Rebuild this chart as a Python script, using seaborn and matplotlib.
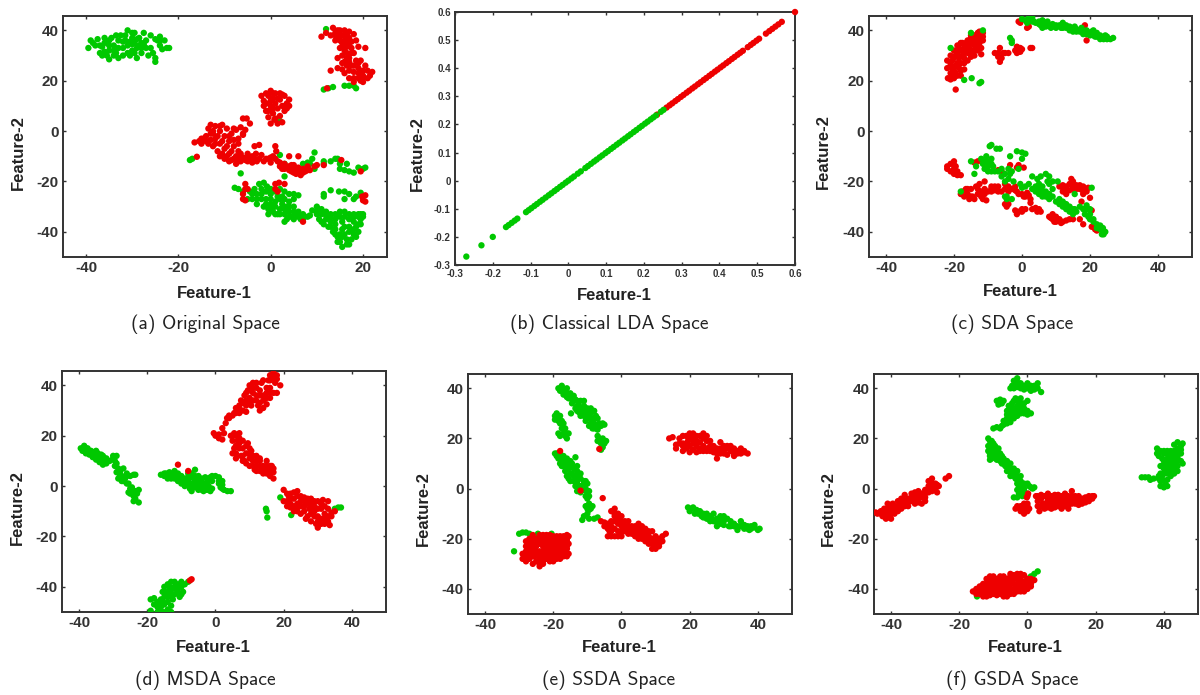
import matplotlib
matplotlib.use("Agg")
import matplotlib.pyplot as plt
import pandas as pd
import seaborn as sns

# ---------- data: (Feature-1, Feature-2) ----------
a_green = [(-39.5,33),(-39,36),(-38,34),(-37.5,36.5),(-37,31),(-36.5,33.5),(-36,37),(-36,35),(-35.5,30),(-35,32),(-35,28.5),(-34.5,37),(-34,34),(-34,30),(-33.5,31),(-33,36),(-33,29),(-32.5,38),(-32,33),(-32,30),(-31.5,36),(-31,34),(-31,40),(-30.5,30),(-30,37),(-30,32),(-29.5,39),(-29.5,35),(-29,29),(-29,33),(-28.5,37),(-28,31),(-28,35),(-27.5,39),(-27,33),(-27,36),(-26.5,30),(-26,38),(-26,33),(-25.5,31),(-25,29),(-25,27.5),(-24.5,36),(-24,34),(-24,37.5),(-23.5,32.5),(-23,36),(-22.5,33),(-22,33),
 (12,40.5),(11.5,16.5),(12.5,17),(13.5,17.5),(16,18),(17,18),(18,18),(18.5,17),(2,4),
 (-17.5,-11.5),(-17,-11),(2,-9.5),(3,-13),(3,-18),(-6.5,-16.8),(7,-13),(8,-12.5),(8.5,-13),(9,-11),(9.5,-8.5),(9.5,-15),(11.5,-12),(11.5,-13),(13,-12),(14,-11),(14.5,-11),(15,-13),(15,-15),(16,-15.5),(17,-16),(18,-16.5),(19,-14.5),(20,-15),(20.5,-14.5),(16.5,-13),
 (-7.8,-22.5),(-7,-23),(-6,-24),(-5,-27),(-4.5,-24),(-4,-27),(-3.5,-23),(-3,-25),(-3,-29),(-2.5,-21),(-2,-27),(-2,-23),(-1.5,-20.5),(-1,-29),(-.8,-22),(-.5,-31),(0,-23),(0,-25),(0,-27),(.5,-30),(.5,-32),(1,-28),(1,-24),(1.5,-33),(2,-31),(2,-23),(2.5,-29),(2.5,-26),(3,-33),(3,-24),(3.5,-30),(3.5,-35),(4,-28),(4,-32),(4.5,-34),(5,-30),(5,-25),(5.5,-33),(6,-32),(6.5,-35),(6,-25.5),(7,-33),(8,-34),(8.5,-33.5),
 (9,-31.5),(10,-30),(10,-33),(10.5,-35),(11,-31),(11,-36),(11.5,-25),(11.5,-26),(12,-32),(12,-35),(12.5,-38),(13,-33),(13,-36),(13,-23.5),(13.5,-40),(14,-33),(14,-35),(14.5,-42),(14.8,-24),(15,-32),(15,-44),(15.5,-46),(15.5,-36),(15.5,-39),(16,-32),(16,-38),(16,-24),(16.5,-43),(16.5,-45),(16,-27),(17,-33),(17,-40),(17.5,-43),(17,-25),(18,-33),(18,-36),(18,-41),(18.5,-26),(18.5,-38),(19,-34),(19,-37),(19.5,-35),(19.5,-24.5),(19,-40),(20,-34),(18,-27),(20,-33)]
a_green_fill = [(-38.5,35),(-37,34),(-36,31.5),(-35,34),(-34,32),(-33,33),(-32,35.5),(-31,31),(-30,34.5),(-29,36.5),(-28,33),(-27.5,34.5),(-30.5,35.5),(-31.5,38),(-30,39),(-28.5,34),(-29.5,31),(-33.5,38),(-35,36),(-24,36),(-25,36.5),(-36.5,30),
 (-4,-25),(-3,-27),(-2,-25),(-1,-24),(-1,-27),(0,-29),(1,-30),(1,-33),(2,-27),(2,-33),(3,-27),(3,-31),(4,-25),(4,-30),(4,-34),(5,-32),(5,-35),(6,-34),(7,-35),(-1.5,-30),(-.5,-33),(3,-36),(5,-27),(1.5,-26),
 (10,-32),(11,-33),(11.5,-37),(12,-33.5),(12.5,-34),(13,-38),(14,-37),(14,-39),(14.5,-44),(15,-34),(16,-34),(17,-35),(15,-41),(16,-41),(17,-45),(18,-34),(18,-39),(17,-38),(18.5,-42),(19.5,-37),(19,-33),(19.5,-33),(13,-34),(14,-41),(15.5,-42)]
a_red = [(11,37.5),(12,39),(13,38),(13.5,41),(14,39),(14.5,37),(15,40),(15,36),(15.5,38),(16,40),(16,34),(16.5,37),(16.5,31),(17,39.5),(17,35),(17,29),(17.5,33),(18,38.5),(18,31),(18.5,36),(19,33.5),(15,33),(15.5,30),(16,27.5),(14.5,29),(13,24),(14.5,25),(15.5,24.5),(16.5,26),(17.5,26),(18,23.5),(17,21),(18,19.5),(19,21),(19,25),(20,22),(20,19.5),(20.5,26),(21,24),(21.5,22),(22,23.5),(19.5,28),(20.5,33),(16,23),(18.5,28),(12.2,17),
 (-2,14),(-1.5,12),(-1,15),(-1.5,10),(-1,8),(0,10),(0,16),(.5,13),(.5,7),(1,15),(1,11),(1,5),(0,3),(1.5,9),(2,15),(2,6),(2,12.5),(2.5,3.5),(3,14),(3,8),(3.5,11),(4,12.5),(4,10),(1.5,3),(-.5,5.5),(.5,9),(3,10),
 (-16.5,-4.5),(-15.5,-4),(-15,-5),(-14.5,-3),(-14,-2),(-13.5,-5),(-13.5,1),(-13,2.5),(-12.5,-1),(-12.5,-6),(-12,2),(-12,-3),(-11.5,-8),(-11,0),(-11,-5),(-11,-10),(-10.5,2.5),(-10,-2),(-10,-7),(-10,-11),(-9.5,1),(-9,-4),(-9,-9),(-9,-12),(-8.5,-1),(-8,1),(-8,-6),(-8,-11),(-7.5,-13),(-7,-3),(-7,-8),(-7,-10),(-6.5,1.5),(-6.5,-12),(-6,-1),(-6,-10.5),(-5.5,.5),(-6,5),(-5.2,5),(-5,-12),(-5,-9),(-4.5,3),(-4,-10),(-4,-12.5),(-3.5,-6),(-3.2,-9),(-2.5,-5.5),(-2.5,-11),(-2,-9.5),(-1.5,-12),(-.5,-11),(0,-12.5),(.5,-10),(1,-6),(1.2,-8),(1.5,-12),(2,-14),(3,-13),(3,-15),(4,-14),(4,-10),(4.5,-16),(5,-13.5),(5.5,-15),(6,-10),(6,-16),(6.5,-17.5),(7,-15),(7.5,-16),(8,-14),(8.5,-15.5),(9.5,-14),(10,-13.5),(11.5,-13.5),
 (-16,-10.2),(15.3,-11.5),(19.5,-16),(-6,-25),(-5.5,-21),(-5.5,-23),(-5,-23),(-6,-27),(-5.5,-27.5),(1,-21),(1,-23),(1.5,-24),(1.8,-20.5),(3,-21),(19.8,-26),(20.5,-25.5),(20,-27.5),(20.5,-28),(7,-36)]
a_red_fill = [(-15,-3),(-14,-4),(-13,-3.5),(-12.5,0),(-11.5,-2),(-10.5,-9),(-10.5,-4),(-9.5,-6),(-9.5,-10),(-9,-2),(-8.5,-8),(-8.5,-11.5),(-8,-3.5),(-7.5,-10),(-7,-12),(-6.5,-9),(-5.5,-11.5),(-5,-10.5),(-4.5,-11),(-3.5,-11),(-3,-12),(-1,-11),(0,-10.5),(1,-11),(2,-12.5),(2.5,-15),(3.5,-14.5),(4,-15.5),(4.5,-13.5),(5,-15),(5,-16.5),(6,-14.5),(5.5,-17),(7,-16.5),(8,-15.5),(-12,-5),(-13,-1),(-11,2),(-7.5,.5),(-6,-1.5),(-7,-5),
 (14,38),(15,38.5),(16,36),(15.5,35),(17,37),(17.5,31),(16,32),(16.5,29),(15.5,27),(17,27.5),(17,24),(18,26),(19,23),(19.5,20),(20,24),(21,21),(18,21),(14.5,40),(16.5,38.5),(17.5,35.5),(14,36),(16.5,33.5),(20,21),(19,27),
 (0,12),(-.5,14),(.5,15),(1.5,13),(2.5,14.5),(2.5,10),(3.5,9),(-.5,8),(.8,4.5),(-1,11)]

b_green = [-.27,-.23,-.2,-.165,-.158,-.15,-.142,-.135,-.112,-.105,-.098,-.09,-.083,-.075,-.068,-.06,-.052,-.045,-.037,-.03,-.022,-.015,-.007,0,.008,.015,.025,.033,.045,.052,.06,.068,.075,.083,.09,.098,.105,.113,.12,.128,.135,.143,.15,.158,.165,.173,.18,.188,.195,.203,.21,.218,.225,.232,.245,.252]
b_red = [.235,.26,.268,.275,.283,.29,.298,.305,.313,.32,.328,.335,.343,.35,.358,.365,.373,.38,.388,.395,.403,.41,.418,.425,.433,.44,.448,.455,.462,.475,.483,.49,.498,.505,.523,.532,.54,.548,.556,.565,.6]

c_green = [(0,44.5),(1,44),(2,44.5),(3,45),(3.5,43.5),(4,43),(5,43.5),(5.5,42),(6,44),(6.5,43),(7,41.5),(7.5,43.5),(8,42),(8.5,41),(9,42.5),(10,42),(11,42),(11.5,41),(12,43),(13,41),(13,42),(14,40),(14.5,41),(15,39.5),(15.5,41.5),(16,40.5),(17,39.5),(17.5,41),(18,39.5),(19,38.5),(20,38),(20.5,39.5),(21,40),(21.5,37.5),(22,39),(23,38),(24,36.5),(24.5,38),(25,36.5),(26,36.5),(26.8,37),
 (-15,39),(-11.5,40),(-21,33),(-3.5,37),(-3,36),(-3,35),(-17,20.3),(-14.8,21),(-12.5,19),(-12,19.5),
 (-18,-24),(-15,-12),(-14,-17),(-13.5,-14),(-12,-11),(-11.5,-13),(-11,-15),(-10.5,-10),(-10,-12),(-10,-16),(-9.5,-6),(-9,-5.5),(-9,-11),(-8.5,-14),(-8,-16),(-7.5,-7),(-6.5,-7),(-6,-18),(-5,-17),(-5,-26),(-4.5,-27),(-4,-19),(-3.5,-10),(-3.5,-17),(-3,-16),(-3,-27),(-2.5,-20),(-1.5,-8),(-1,-15),(0,-8.5),(0,-11),(1,-9),(-.5,-21),(0,-22.5),(1,-22),(2,-21),(3,-23),(3,-18),(4,-24),(4.5,-19),(5,-25),(5.5,-18),(6,-26),(6,-22),(7,-24),(7,-17),(7.5,-20),(8,-21),(8,-27),(9,-26),(9,-20),(10,-28),(10.5,-20),(11,-29),(12,-30),(13,-31),(14,-32),(15,-33),(15.5,-31),(15.5,-25),(17,-30),(18.5,-33),(19,-29.5),(19.5,-34),(20,-31),(20.5,-22.5),(20,-35),(21,-36),(22,-37),(23,-39),(23.5,-41),(24.5,-40),(23.8,-38.5)]
c_green_fill = [(1.5,43),(3,43.5),(5,42.5),(7,43),(9,41.5),(10,41),(12,41),(14,41.5),(16,39.5),(18,38.5),(19,40),(20,39),(21,38),(22,37.5),(23,36.5),(25,37.5),(2,45),(6,41),
 (-11,-12),(-10,-14),(-9,-13),(-9,-16),(-7,-16),(-6,-15),(-5,-20),(-4,-15),(-4.5,-26),(4,-22),(5,-23),(6,-24),(7,-26),(8,-25),(9,-23),(11,-27),(12,-28),(13,-29),(14,-30),(15,-31),(16,-32),(18,-31),(19,-31),(20,-33),(21,-35),(22,-38.5),(23,-37.5),(24,-41),(8,-18),(5,-21)]
c_red = [(-22,28),(-22,25),(-21.8,21),(-21,30),(-21,26),(-21,23),(-21,20.5),(-20.5,28),(-20,32),(-20,24),(-20,21),(-19.5,16.5),(-19.5,30),(-19,34),(-19,27),(-19,22),(-18.5,29),(-18.5,25),(-18,32),(-18,35),(-18,24),(-17.5,30),(-17,33),(-17,27),(-17,24.5),(-16.5,35),(-16,31),(-16,36),(-15.5,33),(-15,29.5),(-15,35),(-15,37),(-14.5,31),(-14,34),(-14,38),(-14,30),(-13.5,36),(-13,32),(-13,39),(-12.5,35),(-12.5,37),(-12,38),(-12,30.5),(-11.5,39),(-11.5,36),
 (-8,31),(-7,31),(-6.5,33),(-6,29),(-6.5,27.5),(-5.5,31),(-5,31),(-4,31),(-2,32),(-1.5,33.5),(-1,31.5),(-.5,33),(0,32.5),(-1.5,31),(2.5,33),(3,33),(-1,43.5),(-.5,43),(1.5,41),(2,41.5),(18.5,42),(19,36),
 (-22,-14),(-21,-13),(-21,-16),(-20,-12),(-20,-15),(-20,-17),(-19.5,-14),(-19,-17.5),(-18,-17.5),(-14,-12.5),(-13,-12),(-18,-25),(-17,-26),(-16.5,-23),(-16,-25),(-15.5,-27),(-15,-23),(-14.5,-26),(-14,-27),(-13.5,-22),(-13,-25),(-12.5,-21),(-12,-24),(-11.5,-27),(-11,-20),(-11,-23),(-10.5,-27.5),(-9,-24),(-9,-22),(-8,-23.5),(-7,-22),(-7,-15.5),(-6,-16),(-6,-24),(-5,-21),(-4,-22),(-3.5,-13.5),(-3,-23),(-2,-23.5),(-1.5,-14.5),(-1,-25),(-1,-13.5),(0,-25),(.5,-14.5),(1,-26),(2,-25.5),(2.5,-27),(2.5,-28.5),(-5,-29),(-4.5,-30),(-2,-31.5),(-1.5,-33),(-1,-32),(0,-31),(1,-31),(3,-31),(4,-30.5),(5,-31),(5.5,-32),(8,-34),(9,-33),(9,-35),(10,-34),(10,-36),(11,-35),(12,-36),(13,-35.5),(14,-35),(15,-35),(17,-35),(18,-37),(20.5,-38),(21.5,-39),(22,-39.5),(20.5,-31.5),
 (11,-22),(12,-21.5),(12,-24),(13,-25),(13,-22),(14,-21),(14.5,-19),(15,-22),(15,-23),(16,-21.5),(17,-23),(18,-22),(18,-24),(18,-25),(17.5,-28),(19,-23),(20,-26.5)]
c_red_fill = [(-21,27),(-20.5,25),(-20,29),(-19.5,23),(-19,31),(-18,27),(-18,22),(-17.5,35),(-17,31),(-16,34),(-16,28),(-15,32),(-14.5,36),(-14,32),(-13,34),(-13,37),(-12,33),(-15,38),(-16,32),(-17,29),(-19.5,26),(-20.5,22),(-18.5,33),(-12.5,39.5),(-11.5,37.5),(-1,33),(-.5,31.5),(-7,29.5),
 (-22,-15),(-20,-13.5),(-19,-16),(-17.5,-24),(-16,-23),(-15,-26),(-13,-23),(-12,-26),(-11,-25),(-10,-24),(-9,-23),(-8,-22),(-7,-24),(-5,-23),(-4,-24),(-2,-22),(-1.5,-24),(.5,-26),(1.5,-24.5),(-4,-29),(0,-32),(4.5,-32),(8.5,-34.5),(9.5,-36),(10.5,-35),(11.5,-36.5),(12,-22.5),(13,-23),(14,-23.5),(15,-20),(16,-23),(17,-21.5),(19,-24),(19.5,-22.5)]

d_green = [(-39.5,15),(-39,14),(-38.5,16),(-38,13),(-37.5,15),(-37,12.5),(-36.5,14),(-36,11.5),(-35.5,13.5),(-35,12),(-34.5,13),(-34,10.5),(-33.5,12.5),(-33,10),(-33,8.5),(-32.5,11),(-32,9),(-30,12),(-29.5,10),(-29.5,8),(-29,5.5),(-28.5,3),(-28,6),(-27.5,4),(-27,2),(-27,7),(-26,5),(-25.5,1),(-25,4),(-24.5,-1),(-24,4.5),(-23.5,4.5),(-25,-3),(-24,-4),(-23.5,-2),(-23.5,-5),(-22.5,-1.5),(-22.5,-6.5),(-24.5,-.5),
 (-16,4.5),(-15,4),(-14.5,5),(-14,3),(-13.5,5.5),(-13,4),(-12,6),(-12,3),(-11,2),(-11,5),(-10,4),(-10,1),(-9,3),(-9,0),(-8,5),(-8,2),(-7.5,-1),(-7,3.5),(-7,1),(-7,-2),(-6,6.5),(-6,2),(-6,-.5),(-5,4),(-5,1),(-5,-1.5),(-4,3),(-4,0),(-3.5,-2),(-3,3.5),(-3,1),(-2,3),(-2,0),(-2.5,-1.5),(-1.5,-2),(0,4),(1,3.5),(1,1),(1.5,-.5),(2,2),(2.5,-1.5),(3.5,-2),(4.5,-2),
 (19,-4.5),(22.2,-11.5),(14.8,-9),(15,-10),(15.2,-12.5),(35,-9),(36,-8.5),(36.8,-8.5),
 (-19,-45),(-18,-44.5),(-18,-47),(-19,-49.5),(-17,-48),(-17,-50),(-16,-45),(-16,-48),(-15.5,-42),(-15,-40),(-15,-44),(-15,-47),(-14,-39),(-14,-42),(-14,-46),(-14,-49),(-13,-38),(-13,-41),(-13,-44),(-13,-47.5),(-12,-40),(-12,-43),(-11,-39),(-11,-42),(-10.5,-44),(-10,-43),(-10,-38),(-9,-39),(-8,-38),(-13,-50),(-15.5,-50)]
d_green_fill = [(-38,15),(-37,14),(-36,13),(-35,14),(-35,10.5),(-34,12),(-34,9.5),(-33,12),(-32,11),(-31,10),(-29,12),(-28,4),(-27.5,2),(-26.5,3),(-26,1),(-25,-1),(-24,-2),(-23,-3),(-24,-6),(-30,11),(-29,9),(-28.5,7),(-26,4),(-28,5),(-25.5,-2.5),
 (-15,5),(-14,4.5),(-13,3),(-12,4.5),(-11,3.5),(-10,3),(-9,1.5),(-8,.5),(-8,3.5),(-7,5),(-6,4),(-6,.5),(-5,3),(-5,-.5),(-4,1.5),(-4,-1.5),(-3,0),(-2.5,1.5),(-1,2),(-1,4),(-1,-1),(1,2),(2,.5),(2,-1),(-1.5,3.5),
 (-17,-46),(-16,-47),(-15.5,-46),(-14.5,-43),(-14,-44),(-13.5,-40),(-13,-42.5),(-12.5,-45),(-12,-38),(-11.5,-41),(-11,-40.5),(-10,-40),(-9.5,-42),(-15,-42),(-16,-50),(-14.5,-50)]
d_red = [(-11,8.5),(-8,6),(-7.5,-37.5),(-7,-37),
 (-.5,21),(0,20),(1,20.5),(1,19),(2,18.5),(2.5,21),(2,23),(3,25),(3.4,27),(5,28),(5.5,29),(6,31),(7,29),(7,32),(7.5,34),(8,30),(8.5,36),(9,32),(9,29.5),(9.5,38),(10,35),(10,40),(10.5,32),(11,37),(11,41),(12,34),(12,39),(12.5,32),(13,36),(13,30),(13.5,41),(14,34),(15,32.5),(15,37),(15.5,42),(16,35),(16.5,44),(17,37),(17,45),(17.5,41),(18,42.5),(18,37),(19,40),(16,39),
 (4.5,20),(5,18),(6,20),(6,16),(6,13),(7,15),(7,21),(7.5,12),(8,18),(8,10),(9,16),(9,13),(9.5,17),(10,11),(10,8),(10.5,14),(11,10),(11.5,6.5),(12,12),(12,8),(13,10),(13,6),(14,8),(14,5),(15,7),(15,10),(16,6),(16,4),(17,5.5),(16.5,8),(17,7),(17,3),(13,11),
 (20,-1.5),(20,-6),(21,-8),(21.5,-4),(22,-5),(23,-2.5),(23,-8),(24,-4),(24,-10),(25,-6),(25,-11),(26,-8),(26.5,-13),(27,-5),(27.5,-9),(28,-11),(28,-14),(29,-6),(29,-12),(29.5,-15),(30,-9),(30,-16.5),(31,-13),(31,-7),(31.5,-5.5),(32,-11),(32,-15),(33,-9),(33,-12),(33.5,-15.5),(34,-10.5),(35,-10),(22,-7),(24,-7),(26,-4.5),(28,-7)]
d_red_fill = [(8,33),(9,34),(9,37),(10,33),(10,38),(11,34),(11,39),(12,36),(12,41),(13,38),(13,33),(14,36),(14,42),(15,39),(16,42),(16,37),(15,35),(14,31),(17,43),(16,44),(18,44),(6,29),(4,28),(7,30.5),(4,27),
 (5,20),(5.5,15),(5,13),(5.5,21),(6.5,18),(7,19),(8,15),(8,12),(8.5,10),(9,9),(10,13),(10,15),(11,12),(11,8),(12,6),(12,10),(13,8),(14,7),(15,5),(15,8),(16,8),(7,17),(6,11),
 (21,-3),(21,-6),(22,-3),(22,-8.5),(23,-5),(23,-10),(24,-2),(24,-8.5),(25,-4),(25,-8),(26,-6),(26,-10),(27,-7),(27,-12),(28,-5),(28,-9),(29,-8),(29,-10),(30,-6),(30,-12),(30,-14),(31,-9),(31,-15),(32,-8),(32,-13),(33,-6),(33,-14),(34,-12)]

e_green = [(-18.5,40),(-18,39),(-17.5,41),(-17,39.5),(-16.5,37.5),(-16,40),(-16,38),(-15.5,36),(-15,38),(-14.5,34),(-14,37),(-13.5,32),(-13.5,35.5),(-13,35),(-12.5,30.5),(-12.5,33),(-12,29),(-12,35),(-11.5,31),(-11,33),(-11,29),(-10.5,27),(-10,30),(-10,32),(-9.5,25),(-9,28),(-9,32),(-8.5,24),(-8,26),(-8,31),(-7.5,29),(-7,23.5),(-6.5,26),(-5.5,26),(-5,25.5),(-7,19),(-6.5,20),(-5.5,20),(-5,18),(-4.5,19),(-5.5,16.5),(-6,15.5),(-14.8,30),
 (-19.5,29),(-19,28),(-19,30),(-18.5,27),(-18,29),(-18,26),(-17.5,24),(-17,26),(-17,22),(-18.5,22),(-18,21),(-16,22),(-16.5,24),(-16,20),(-15.5,22),(-19.5,27.5),
 (-19.5,14),(-19,13),(-18.5,12),(-18,14),(-18,10),(-17.5,11),(-17,9),(-17,13),(-16.5,7),(-16,10),(-16,5),(-15.5,8),(-15,3),(-15,11),(-14.5,6),(-14,8),(-13.5,1),(-13.5,5),(-13,3),(-13.5,12.5),(-13,-1),(-13,7),(-12,4),(-12,-1.5),(-12,1),(-11,2),(-11,3),(-10.5,0),(-10,2),(-10,-2),(-9.5,-1),(-10,-4),(-9.5,-6),(-10,-8),(-10,-10),(-9,-8),(-9.5,-12),(-11,-11),(-11.5,-12.5),(-8,-12),(-7,-11.5),
 (19.5,-7.5),(20,-9),(21,-7.5),(21.5,-10),(22,-8.5),(23,-9),(23.5,-11),(24,-10),(25,-10),(25.5,-12),(26,-13),(27,-10),(27,-13),(28,-12),(28,-15),(29,-11),(29,-14),(30,-13),(31,-12),(31.5,-15),(32,-13),(33,-15),(34,-16.5),(35,-15),(35,-13),(36,-16),(37,-15),(37.5,-16.5),(38,-15),(39,-15.5),(40,-16.5),(40.5,-16),
 (-30,-18),(-29,-17.5),(-28,-17.5),(-27,-18),(-20.5,-18),(-31.5,-25),(-24.5,-18)]
e_green_fill = [(-17.5,39),(-17,37.5),(-16,36.5),(-15,36),(-14.5,36),(-13,33),(-13,31),(-12,32),(-11,35),(-11,31),(-10,28),(-9.5,29),(-9,30),(-9,26),(-8,28),(-8,24),(-7,28),(-7,25),(-6,25),(-6,19),(-6,18),(-7,21),
 (-18.5,29),(-17.5,27),(-17,24),(-16.5,21),
 (-19,14),(-18,12.5),(-17.5,9),(-17,11),(-16,12),(-16,8),(-15.5,4),(-15,6),(-15,9),(-14.5,10),(-14,3),(-14,5),(-13,9),(-13,2),(-13,5),(-12,6),(-12,0),(-11,-.5),(-10.5,3),(-10.5,-3),(-9.5,-3),(-9.5,-8.5),(-10.5,-7),(-8.5,-7),
 (20.5,-8),(22.5,-10),(24,-11.5),(26,-11),(26.5,-12),(28,-13.5),(30,-11),(30,-14.5),(32,-15),(33,-14),(34,-15),(36,-14.5),(37,-16),(38,-16),(39,-14.5),(29,-12.5),(25,-12)]
e_red = [(-18,15),(-6.5,15.8),(-12,-.8),(-5.5,-3.8),
 (-29,-28),(-28,-26),(-28,-29),(-28,-23),(-27,-20),(-27,-25),(-27,-28),(-26.5,-22),(-26,-18.5),(-26,-25),(-26,-30),(-25.5,-27),(-25,-20),(-25,-23),(-25,-29),(-24,-18.5),(-24,-22),(-24,-25),(-24,-28),(-24,-31),(-23,-20),(-23,-23),(-23,-27),(-23,-30),(-22,-18.5),(-22,-22),(-22,-25),(-22,-28),(-21,-20),(-21,-23),(-21,-26),(-21,-29),(-20,-21),(-20,-24),(-20,-27),(-19,-19),(-19,-22),(-19,-25),(-19,-28),(-18,-20),(-18,-23),(-18,-27),(-17,-19),(-17,-22),(-17,-25),(-16,-18.5),(-16,-21),(-16,-24),(-16,-27),(-15.5,-19),(-15.5,-22),(-15.5,-26),(-28,-21),(-26,-22),
 (-6,-13),(-5,-13.5),(-4.5,-15),(-4,-14),(-4,-19),(-3.5,-17),(-3,-19),(-3,-15),(-3,-9),(-2,-8),(-2,-11),(-2,-13),(-2,-16),(-2,-19),(-1,-10),(-1,-14),(-1,-19),(0,-11),(0,-15),(0,-17),(1,-13),(1,-15),(2,-15),(2,-18),(3,-15),(3,-18),(4,-17),(4,-19),(5,-14),(5,-17),(5,-20),(6,-17),(6,-20),(7,-16),(7,-18),(7,-21),(8,-19),(8,-22),(9,-17),(9,-20),(9,-24),(10,-19),(10,-22),(11,-20),(11,-23),(12,-19),(12,-21),(13,-18),
 (14,20),(15,20.5),(16,17.5),(17,20),(18,15),(18,18),(19,21),(19,16),(19.5,19),(20,22),(20,14.5),(21,18),(21,22),(21,15.5),(22,19),(22,14.5),(23,16),(23,21),(23,18.5),(24,22),(24,15),(25,19),(25,16),(25,21),(26,15),(26,17),(27,17),(27,14.5),(28,12),(28,16),(29,14),(29,18.5),(30,15),(30,17),(31,13.5),(31,16),(32,15),(32,17),(33,14),(33,13),(34,15),(35,14),(35,16),(36,14.5),(37,14)]
e_red_fill = [(-29,-26),(-28,-27.5),(-27,-23),(-27,-22),(-26,-20),(-26,-27),(-25,-25),(-25,-26.5),(-24,-20),(-24,-27),(-24,-30),(-23,-18.5),(-23,-25),(-23,-29),(-22,-20),(-22,-24),(-22,-27),(-21,-18.5),(-21,-22),(-21,-25),(-21,-28),(-20,-19),(-20,-23),(-20,-26),(-20,-29),(-19,-21),(-19,-24),(-19,-27),(-18,-19),(-18,-22),(-18,-25),(-18,-28),(-17,-21),(-17,-24),(-17,-27),(-16,-20),(-16,-23),(-16,-26),(-27,-27),(-25,-22),(-26,-24),(-23,-21),(-28,-25),
 (-5,-15),(-4,-16),(-3,-13),(-3,-17),(-2,-10),(-1,-12),(-1,-17),(0,-13),(0,-19),(1,-17),(2,-13),(2,-16),(3,-17),(4,-15),(5,-16),(5,-18),(6,-15),(6,-18),(7,-19),(8,-17),(8,-20),(9,-22),(10,-21),(10,-24),(11,-22),
 (17,18),(18,21),(19,18),(20,17),(20,20),(21,20),(22,17),(22,21),(23,15),(24,17),(24,20),(25,15),(26,19),(27,16),(28,14),(29,16),(30,14),(31,17),(33,16),(34,14),(36,15),(16,16),(18,17)]

f_green = [(-5,40),(-4.5,41),(-4,43),(-3,44),(-3,40.5),(-2.5,42),(-2,40),(-1,41),(-1,39.5),(0,42),(0,40),(1,41),(1,39),(2,41),(2,39.5),(3,42),(3,40),(4,38.5),
 (-9,35),(-8.5,33.5),(-8,35.5),(-7.5,34),(-7,35),(-6,31),(-5.5,33),(-5,30),(-5,28),(-4.5,34),(-4,32),(-4,28),(-3.5,36),(-3,33),(-3,29),(-2.5,35),(-2,32),(-2,34),(-1.5,31),(-1,34),(0,35),(0,31),(0,29.5),(1,30),(-7.5,25),(-7,27),(-8,24),(-10,24),(-9,24.5),(-6,26),(-5,26.5),
 (-11.5,20),(-11.5,17),(-11.5,15),(-11,19),(-11,13),(-10.5,17),(-10.5,12),(-10,15),(-10,13),(-9.5,17),(-9,14),(-9,11.5),(-8.5,16),(-8,14),(-8,12),(-7.5,10),(-7,12),(-6.5,9),(-6,11),(-6,7),(-5.5,9),(-5,5),(-5,8),(-4,8),(-4,6),(-3.5,4),(-3,7),(-3,2),(-3,5),(-2.5,1),(-2,3),(-2,-1),(-2.5,-2),(-3,-3.5),(-1,2),(-1,0),(0,2),(0,-2),(1,.5),(1.5,0),(2,.5),(-1.5,-3),(-4,-3.5),
 (33.5,4.5),(34.5,4.5),(35.5,4.5),(36,3.5),(37,4),(38,16),(38.5,13),(38.5,4),(39,15),(39,9),(39,6),(39,1),(40,14),(40,11),(40,8),(40,3),(40,.5),(41,15),(41,12),(41,9),(41,6),(41,1),(42,13),(42,10),(42,5),(43,17.5),(43,15),(43,12),(43,9),(43,6),(44,14),(44,11),(44,18.5),(44,7),(45,17),(45,14),(45,11),(45.5,10),(45.5,18),(42,7),
 (0,-36),(1,-35),(2,-34),(3,-33),(-14.8,-43)]
f_green_fill = [(-4,40),(-3.5,42),(-2,42),(-1,40),(1,40),(2,40.5),
 (-8,34),(-8.5,35),(-4,30),(-4,35),(-3.5,31),(-3,35),(-3,31),(-2,30),(-2,36),(-1,32),(-5,32),(-4.5,29),(-6,28),(-7,25.5),(-6,29.5),(-1,30),
 (-11,16),(-11,14),(-10.5,19),(-10,16),(-9.5,13),(-9,15.5),(-9,13),(-8.5,13),(-8,11),(-7.5,13),(-7,10),(-6.5,11),(-6,9),(-5.5,7),(-5,10),(-4.5,7),(-4,5),(-3.5,7),(-3,3.5),(-2.5,4),(-2,5),(-1.5,2),(-1,-1),(-2.5,0),(-3,-.5),(.5,1),(-10,18),(-11,11.5),
 (38,14),(39.5,12),(39.5,5),(40,6),(40,9.5),(40,15),(40.5,1.5),(41,14),(41,10.5),(41,7.5),(41,3.5),(42,15),(42,12),(42,8.5),(43,13.5),(43,10.5),(43,7.5),(44,16),(44,12.5),(44,9),(45,15.5),(44.5,16),(38.5,5),(39,3)]
f_red = [(-44.5,-9.5),(-44,-10),(-43,-9),(-42.5,-11),(-42,-8),(-41.5,-12),(-41,-6),(-41,-10),(-40,-8),(-40,-12),(-39.5,-6),(-39,-10),(-39,-8),(-38,-7),(-38,-9),(-37,-6),(-37,-8),(-36,-2.5),(-36,-5),(-35,-7),(-35,-4),(-34,-2),(-34,-5),(-33,-3),(-33,-6),(-32,-1),(-32,-4),(-31,-2),(-31,-6),(-30,-2),(-30,-5),(-30,-3.5),(-29,1),(-29,3),(-28,4),(-29,-1.5),(-28,-1),(-27,2),(-27,-.5),(-26.5,1.5),(-26,1),(-26.5,-1.5),(-24,4),(-23,5),
 (-3.5,-8),(-3,-7),(-2,-9),(-2,-7),(-1,-10),(-1,-8),(-1,-6),(0,-7),(0,-9),(.5,-8),(0,-3),(.2,-2),(-.2,-3.5),
 (2.5,-3),(3,-5),(3,-7),(3.5,-9),(4,-2.5),(4.5,-6),(5,-8),(5,-3),(6,-5),(6,-2),(6,-7.5),(7,-3),(7,-8),(7.5,-5),(8,-2.5),(8,-6),(9,-4),(9,-7),(10,-3),(10,-6),(10,-8),(11,-2),(11,-5),(11,-7),(12,-3),(12,-5),(12,-8),(13,-1),(13,-4),(13,-6),(14,-3),(14,-6),(15,-4),(15,-5),(16,-6),(16,-4),(17,-3.5),(17,-5.5),(18,-3),(18,-5),(19,-3),(19.5,-3),
 (-16,-41),(-15,-40),(-15,-42),(-14,-39),(-14,-42),(-13,-38),(-13,-41),(-12,-36),(-12,-40),(-12,-43),(-11,-35),(-11,-38),(-11,-41),(-10,-35),(-10,-39),(-10,-42),(-9,-36),(-9,-38),(-9,-41),(-8,-35),(-8,-39),(-8,-42),(-7,-37),(-7,-41),(-6,-36),(-6,-39),(-6,-43),(-5,-35),(-5,-38),(-5,-42),(-4,-36),(-4,-40),(-3,-34),(-3,-38),(-3,-41),(-2,-35),(-2,-38),(-2,-41),(-1,-34.5),(-1,-37),(-1,-40),(0,-36),(0,-39),(1,-37),(1,-39),(2,-36.5)]
f_red_fill = [(-43,-10),(-42,-10),(-41,-8),(-40,-10),(-39,-7),(-38,-5),(-37,-4),(-36,-7),(-35,-5.5),(-34,-3.5),(-33,-4.5),(-32,-2.5),(-31,-3.5),(-30,-.5),(-29,-.5),(-28,2),(-28,.5),(-27,.5),(-41,-11.5),(-40,-6.5),(-33,-1.5),(-32,-5.5),
 (-2,-8),(-1,-9),(0,-6),(0,-8),
 (3,-3),(4,-4),(4,-7),(5,-6),(6,-4),(6,-6),(7,-6),(8,-4),(8,-7.5),(9,-2.5),(9,-5.5),(10,-4.5),(11,-4),(12,-6.5),(13,-3),(14,-4.5),(15,-3),(15,-6.5),(16,-5),(17,-4.5),(18,-4),(19,-4),
 (-14,-40.5),(-13,-39.5),(-13,-43),(-12,-38),(-12,-41.5),(-11,-36.5),(-11,-39.5),(-11,-42.5),(-10,-37),(-10,-40.5),(-9,-39.5),(-9,-42.5),(-8,-37),(-8,-40.5),(-7,-35),(-7,-39),(-7,-43),(-6,-37.5),(-6,-41),(-5,-36.5),(-5,-40),(-4,-38),(-4,-42),(-3,-36),(-3,-39.5),(-2,-36.5),(-2,-39.5),(-1,-38.5),(-1,-41),(0,-37.5),(0,-40),(1,-36),(1,-38),(-5,-34),(-4,-34.5),(-2,-34)]

captions = ["(a) Original Space", "(b) Classical LDA Space", "(c) SDA Space",
            "(d) MSDA Space", "(e) SSDA Space", "(f) GSDA Space"]
wide_ticks = [-40, -20, 0, 20, 40]
y_ticks = [-40, -20, 0, 20, 40]
lda_ticks = [-.3, -.2, -.1, 0, .1, .2, .3, .4, .5, .6]
lda_labels = ["-0.3", "-0.2", "-0.1", "0", "0.1", "0.2", "0.3", "0.4", "0.5", "0.6"]

# ---------- layout in reference pixels ----------
W, H = 1200, 695
panels = [
    dict(g=a_green + a_green_fill, r=a_red + a_red_fill, box=(63, 16, 387, 257), xl=(-45, 25.2), yl=(-50, 45.7), xt=[-40, -20, 0, 20],
         xlab=(214, 293), ylab=(18, 153), cap=(205, 324), green_top=False),
    dict(g=[(v, v) for v in b_green], r=[(v, v) for v in b_red], box=(455, 12, 795, 265), xl=(-.3, .6), yl=(-.3, .6), xt=lda_ticks,
         xlab=(614, 296), ylab=(417, 154), cap=(609, 324), green_top=True),
    dict(g=c_green + c_green_fill, r=c_red + c_red_fill, box=(869, 16, 1192, 257), xl=(-45, 50), yl=(-50, 45.7), xt=wide_ticks,
         xlab=(1020, 291), ylab=(823, 152), cap=(1012, 324), green_top=True),
    dict(g=d_green + d_green_fill, r=d_red + d_red_fill, box=(62, 371, 386, 612), xl=(-45, 50), yl=(-50, 45.7), xt=wide_ticks,
         xlab=(213, 647), ylab=(17, 508), cap=(205, 680), green_top=False),
    dict(g=e_green + e_green_fill, r=e_red + e_red_fill, box=(468, 374, 792, 614), xl=(-45, 50), yl=(-50, 45.7), xt=wide_ticks,
         xlab=(619, 648), ylab=(423, 509), cap=(609, 680), green_top=False),
    dict(g=f_green + f_green_fill, r=f_red + f_red_fill, box=(874, 374, 1198, 614), xl=(-45, 50), yl=(-50, 45.7), xt=wide_ticks,
         xlab=(1025, 648), ylab=(828, 509), cap=(1012, 680), green_top=False),
]

sns.set_theme(style="white")
plt.rcParams["font.family"] = ["Liberation Sans", "DejaVu Sans"]
DARK = "#333333"
palette = {"green": "#00C800", "red": "#EE0000"}

fig = plt.figure(figsize=(W / 100, H / 100), dpi=100, facecolor="white")
for i, p in enumerate(panels):
    l, t, r, b = p["box"]
    ax = fig.add_axes([l / W, 1 - b / H, (r - l) / W, (b - t) / H])
    green = pd.DataFrame(p["g"], columns=["x", "y"]).assign(cls="green")
    red = pd.DataFrame(p["r"], columns=["x", "y"]).assign(cls="red")
    df = pd.concat([red, green] if p["green_top"] else [green, red], ignore_index=True)
    sns.scatterplot(data=df, x="x", y="y", hue="cls", palette=palette, s=21, linewidth=0,
                    alpha=1, legend=False, ax=ax, clip_on=(i != 1), zorder=3)
    ax.set_xlim(*p["xl"])
    ax.set_ylim(*p["yl"])
    small = i == 1
    ax.set_xticks(p["xt"])
    ax.set_yticks(lda_ticks if small else y_ticks)
    if small:
        ax.set_xticklabels(lda_labels)
        ax.set_yticklabels(lda_labels)
    else:
        ax.set_xticklabels([str(v) for v in p["xt"]])
        ax.set_yticklabels([str(v) for v in y_ticks])
    ax.tick_params(direction="in", top=True, right=True, bottom=True, left=True, length=2.5, width=1,
                   color=DARK, labelcolor=DARK, labelsize=7 if small else 11, pad=3)
    for lab in ax.get_xticklabels() + ax.get_yticklabels():
        lab.set_fontweight("bold")
    for s in ax.spines.values():
        s.set_visible(True)
        s.set_color(DARK)
        s.set_linewidth(1.4)
    ax.set_xlabel("Feature-1", fontsize=12, fontweight="bold", color="#222222")
    ax.set_ylabel("Feature-2", fontsize=12, fontweight="bold", color="#222222")
    ax.xaxis.set_label_coords(p["xlab"][0] / W, 1 - p["xlab"][1] / H, transform=fig.transFigure)
    ax.yaxis.set_label_coords(p["ylab"][0] / W, 1 - p["ylab"][1] / H, transform=fig.transFigure)
    ax.xaxis.label.set_verticalalignment("center")
    ax.yaxis.label.set_verticalalignment("center")
    fig.text(p["cap"][0] / W, 1 - p["cap"][1] / H, captions[i], family="cmss10", fontsize=14,
             color="#222222", ha="center", va="center")

fig.savefig("out.png", dpi=100, facecolor="white")
